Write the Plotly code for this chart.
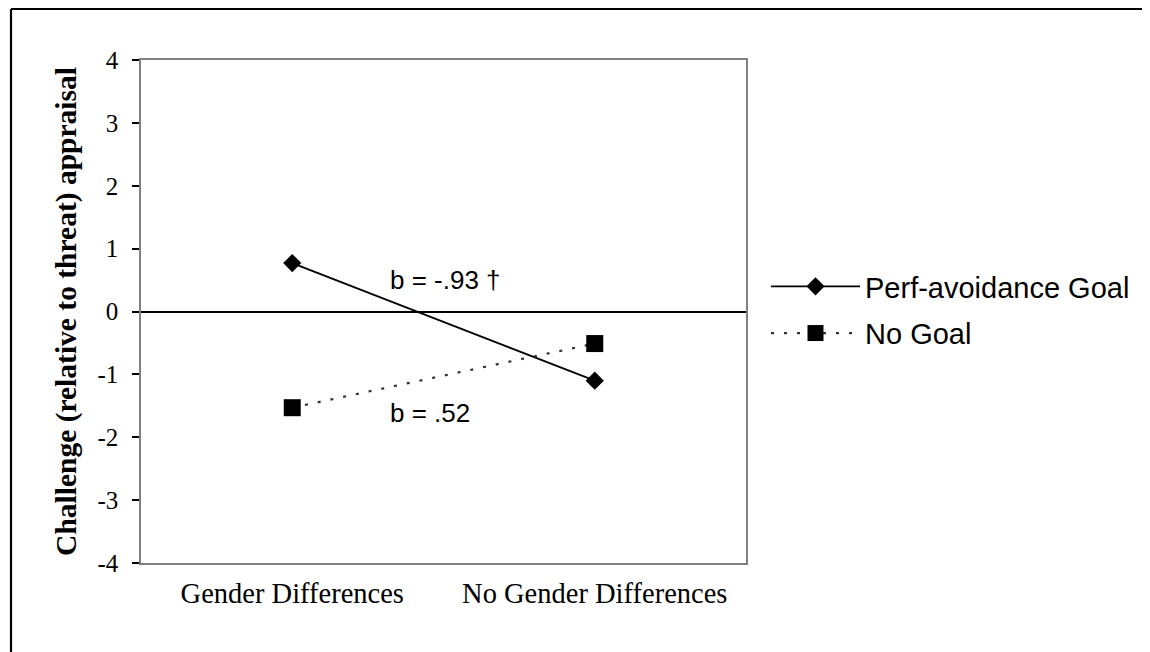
import plotly.graph_objects as go

categories = ["Gender Differences", "No Gender Differences"]
perf_avoid = [0.77, -1.10]
no_goal = [-1.53, -0.51]
series_names = ["Perf-avoidance Goal", "No Goal"]
y_ticks = [-4, -3, -2, -1, 0, 1, 2, 3, 4]
y_tick_text = ["-4", "-3", "-2", "-1", "0", "1", "2", "3", "4"]
annot_texts = ["b = -.93 †", "b = .52"]
annot_y = [0.50, -1.61]

# page body has an 8px margin; figure sized to the 1150x652 window
W, H = 1142, 644
L, R, T, B = 133, 738, 52, 555

fig = go.Figure()
fig.add_trace(go.Scatter(
    x=categories, y=perf_avoid, name=series_names[0], mode="lines+markers",
    legendgroup="a",
    line=dict(color="black", width=1.8),
    marker=dict(symbol="diamond", size=14, color="black"),
))
fig.add_trace(go.Scatter(
    x=categories, y=no_goal, name=series_names[1], mode="lines+markers",
    legendgroup="b",
    line=dict(color="#333333", width=2.2, dash="3px,10px"),
    marker=dict(symbol="square", size=17, color="black"),
))

for t, yv in zip(annot_texts, annot_y):
    fig.add_annotation(x=0.3165, y=yv, xref="x", yref="y", text=t, showarrow=False,
                       xanchor="left", yanchor="middle",
                       font=dict(family="Liberation Sans", size=26, color="black"))

# outer border: only top and left edges are visible in the frame
bx0 = (3 - L) / (R - L)
by1 = (B - 1) / (B - T)
fig.add_shape(type="line", xref="paper", yref="paper",
              x0=bx0, x1=(1300 - L) / (R - L), y0=by1, y1=by1,
              line=dict(color="black", width=2.2), layer="below")
fig.add_shape(type="line", xref="paper", yref="paper",
              x0=bx0, x1=bx0, y0=(B - 800) / (B - T), y1=by1,
              line=dict(color="black", width=2.2), layer="below")

fig.update_layout(
    width=W, height=H,
    margin=dict(l=L, r=W - R, t=T, b=H - B),
    paper_bgcolor="white", plot_bgcolor="white",
    showlegend=True,
    legend=dict(x=(758 - L) / (R - L), y=(B - 302) / (B - T), xanchor="left", yanchor="middle",
                font=dict(family="Liberation Sans", size=29, color="black"),
                itemwidth=89, bgcolor="rgba(0,0,0,0)",
                traceorder="grouped", tracegroupgap=6),
    xaxis=dict(type="category", range=[-0.5, 1.5], showgrid=False, zeroline=False,
               showline=True, linecolor="#808080", linewidth=1.5, mirror=True,
               ticks="", tickfont=dict(family="Liberation Serif", size=28.5, color="black"),
               ticklabelstandoff=4),
    yaxis=dict(range=[-4, 4], tickvals=y_ticks, ticktext=y_tick_text, showgrid=False,
               zeroline=True, zerolinecolor="black", zerolinewidth=2,
               showline=True, linecolor="#808080", linewidth=1.5, mirror=True,
               ticks="outside", ticklen=7, tickwidth=1.5, tickcolor="black",
               tickfont=dict(family="Liberation Serif", size=25, color="black"),
               ticklabelstandoff=9,
               title=dict(text="<b>Challenge (relative to threat) appraisal</b>",
                          font=dict(family="Liberation Serif", size=29.5, color="black"),
                          standoff=12)),
)

fig.write_html("out.html")
